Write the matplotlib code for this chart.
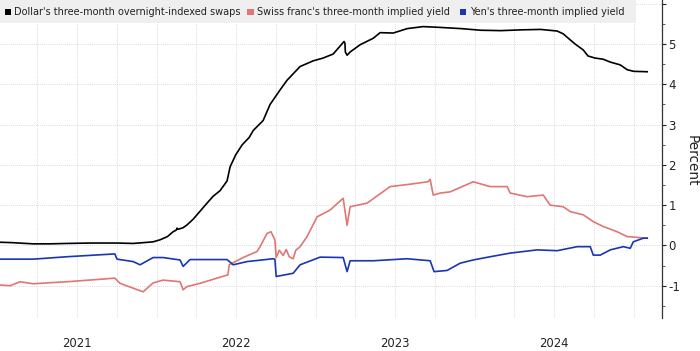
import matplotlib
matplotlib.use("Agg")
import matplotlib.pyplot as plt
import matplotlib.dates as mdates
from matplotlib.patches import Rectangle
from matplotlib.ticker import FixedLocator, FixedFormatter, MultipleLocator
import pandas as pd

plt.rcParams['font.family'] = ['DejaVu Sans']
plt.rcParams['axes.unicode_minus'] = False

# ---------------- data ----------------
series_names = ["Dollar's three-month overnight-indexed swaps",
                "Swiss franc's three-month implied yield",
                "Yen's three-month implied yield"]
series_colors = ["#000000", "#e07676", "#1a35b5"]

usd_dates = ["2021-01-04", "2021-02-01", "2021-03-22", "2021-05-01", "2021-06-08", "2021-08-01",
             "2021-10-01", "2021-11-07", "2021-12-01", "2021-12-23", "2022-01-08", "2022-01-25",
             "2022-02-07", "2022-02-14", "2022-02-16", "2022-02-18", "2022-03-02", "2022-03-11",
             "2022-03-25", "2022-04-10", "2022-04-26", "2022-05-10", "2022-05-26", "2022-06-11",
             "2022-06-18", "2022-07-01", "2022-07-16", "2022-08-01", "2022-08-10", "2022-09-02",
             "2022-09-18", "2022-10-11", "2022-10-27", "2022-11-26", "2022-12-26", "2023-01-18",
             "2023-02-10", "2023-03-07", "2023-03-09", "2023-03-10", "2023-03-14", "2023-03-21",
             "2023-04-13", "2023-05-13", "2023-05-29", "2023-06-28", "2023-07-30", "2023-09-05",
             "2023-10-14", "2023-12-01", "2024-01-15", "2024-03-01", "2024-04-20", "2024-06-01",
             "2024-07-09", "2024-07-23", "2024-08-08", "2024-08-19", "2024-09-07", "2024-09-18",
             "2024-10-04", "2024-10-23", "2024-11-08", "2024-12-01", "2024-12-17", "2025-01-01",
             "2025-02-01"]
usd_vals = [0.08, 0.07, 0.04, 0.04, 0.05, 0.06,
            0.06, 0.05, 0.07, 0.09, 0.14, 0.22,
            0.34, 0.38, 0.43, 0.40, 0.44, 0.51,
            0.65, 0.85, 1.05, 1.22, 1.36, 1.60,
            1.95, 2.25, 2.50, 2.68, 2.85, 3.10,
            3.50, 3.86, 4.10, 4.44, 4.58, 4.65,
            4.75, 5.06, 5.02, 4.80, 4.72, 4.80,
            4.98, 5.14, 5.28, 5.27, 5.38, 5.43,
            5.41, 5.38, 5.34, 5.33, 5.35, 5.36,
            5.32, 5.25, 5.10, 5.00, 4.85, 4.70,
            4.65, 4.62, 4.55, 4.48, 4.36, 4.32,
            4.31]

chf_dates = ["2021-01-04", "2021-01-28", "2021-02-20", "2021-03-22", "2021-06-08", "2021-08-23",
             "2021-09-26", "2021-10-08", "2021-11-07", "2021-11-30", "2021-12-23", "2022-01-15",
             "2022-02-23", "2022-03-02", "2022-03-11", "2022-04-10", "2022-05-19", "2022-06-13",
             "2022-06-16", "2022-07-18", "2022-08-19", "2022-08-26", "2022-09-11", "2022-09-20",
             "2022-09-29", "2022-10-02", "2022-10-09", "2022-10-18", "2022-10-25", "2022-11-01",
             "2022-11-10", "2022-11-16", "2022-11-26", "2022-12-12",
             "2023-01-04", "2023-02-03", "2023-03-05", "2023-03-14", "2023-03-21", "2023-04-29",
             "2023-06-21", "2023-08-06", "2023-09-16", "2023-09-21", "2023-09-28", "2023-10-14",
             "2023-11-06", "2023-12-29", "2024-02-06", "2024-03-16", "2024-03-23", "2024-05-01",
             "2024-06-07", "2024-06-23", "2024-07-23", "2024-08-08", "2024-09-07", "2024-09-30",
             "2024-10-23", "2024-11-24", "2024-12-17", "2025-01-09", "2025-02-01"]
chf_vals = [-0.98, -1.00, -0.90, -0.95, -0.90, -0.84,
            -0.81, -0.94, -1.06, -1.15, -0.93, -0.86,
            -0.90, -1.10, -1.02, -0.94, -0.81, -0.73,
            -0.48, -0.30, -0.15, -0.03, 0.30, 0.34,
            0.14, -0.30, -0.12, -0.25, -0.10, -0.28,
            -0.33, -0.12, -0.03, 0.22,
            0.71, 0.88, 1.17, 0.50, 0.96, 1.05,
            1.46, 1.52, 1.58, 1.64, 1.25, 1.30,
            1.33, 1.58, 1.46, 1.46, 1.30, 1.21,
            1.25, 1.00, 0.96, 0.84, 0.76, 0.59,
            0.47, 0.34, 0.22, 0.20, 0.18]

jpy_dates = ["2021-01-04", "2021-03-22", "2021-06-08", "2021-09-26", "2021-10-01", "2021-11-07",
             "2021-11-23", "2021-12-23", "2022-01-15", "2022-02-23", "2022-03-02", "2022-03-18",
             "2022-06-11", "2022-06-25", "2022-07-27", "2022-09-25", "2022-09-29", "2022-10-02",
             "2022-11-10", "2022-11-26", "2023-01-11", "2023-03-05", "2023-03-14", "2023-03-21",
             "2023-05-13", "2023-07-30", "2023-09-21", "2023-09-30", "2023-10-30", "2023-11-29",
             "2023-12-29", "2024-02-06", "2024-03-23", "2024-05-24", "2024-07-09", "2024-08-24",
             "2024-09-23", "2024-09-30", "2024-10-16", "2024-11-08", "2024-12-08", "2024-12-24",
             "2024-12-31", "2025-01-23", "2025-02-01"]
jpy_vals = [-0.34, -0.34, -0.28, -0.21, -0.34, -0.40,
            -0.48, -0.30, -0.30, -0.36, -0.52, -0.35,
            -0.35, -0.48, -0.40, -0.33, -0.34, -0.77,
            -0.69, -0.48, -0.29, -0.30, -0.65, -0.38,
            -0.38, -0.33, -0.38, -0.65, -0.62, -0.44,
            -0.36, -0.28, -0.19, -0.11, -0.13, -0.03,
            -0.03, -0.24, -0.24, -0.11, -0.03, -0.07,
            0.09, 0.18, 0.18]

year_labels = ["2021", "2022", "2023", "2024"]
y_ticks = [-1, 0, 1, 2, 3, 4, 5, 6]
y_tick_labels = ["-1", "0", "1", "2", "3", "4", "5", ""]
y_label = "Percent"

# ---------------- figure ----------------
W, H = 700, 351
fig = plt.figure(figsize=(W / 100, H / 100), dpi=100)
ax = fig.add_axes([0, 33 / H, 662 / W, 318 / H])

for dates, vals, col in zip([usd_dates, chf_dates, jpy_dates],
                            [usd_vals, chf_vals, jpy_vals], series_colors):
    ax.plot(pd.to_datetime(dates), vals, color=col, lw=1.2, zorder=3,
            solid_joinstyle="round")

ax.set_xlim(pd.Timestamp("2021-01-05"), pd.Timestamp("2025-03-07"))
ax.set_ylim(-1.8, 6.09)

# x: quarterly gridlines, year labels at mid-year
quarters = pd.date_range("2021-04-01", "2025-01-01", freq="QS")
qnums = mdates.date2num(quarters)
qlabels = []
for q in quarters:
    lab = str(q.year) if (q.month == 7 and str(q.year) in year_labels) else ""
    qlabels.append(lab)
ax.xaxis.set_major_locator(FixedLocator(qnums))
ax.xaxis.set_major_formatter(FixedFormatter(qlabels))
ax.tick_params(axis="x", length=0, pad=13.5, labelsize=8.4, colors="#222222")

# y on the right
ax.yaxis.tick_right()
ax.yaxis.set_label_position("right")
ax.yaxis.set_major_locator(FixedLocator(y_ticks))
ax.yaxis.set_major_formatter(FixedFormatter(y_tick_labels))
ax.yaxis.set_minor_locator(MultipleLocator(0.5))
ax.tick_params(axis="y", which="major", length=3, width=0.8, pad=1.5, labelsize=8.5,
               colors="#222222", direction="out")
ax.tick_params(axis="y", which="minor", length=1.8, width=0.6, color="#444444")

ax.grid(True, which="major", axis="both", linestyle=(0, (1, 1.5)), color="#cfcfcf", lw=0.6)
ax.set_axisbelow(True)

for s in ["left", "top", "bottom"]:
    ax.spines[s].set_visible(False)
ax.spines["right"].set_color("#333333")
ax.spines["right"].set_linewidth(0.9)

fig.text(692 / W, 1 - 161 / H, y_label, rotation=270, ha="center", va="center",
         fontsize=9.8, color="#222222")

# legend band
fig.patches.append(Rectangle((0, 1 - 23 / H), 636 / W, 23 / H, transform=fig.transFigure,
                             facecolor="#efefef", edgecolor="none", zorder=5))
sq_x = [4.5, 247, 460]
tx_x = [14, 257, 470]
yc = 1 - 12 / H
for name, col, sx, tx in zip(series_names, series_colors, sq_x, tx_x):
    fig.patches.append(Rectangle((sx / W, yc - 3.3 / H), 6.5 / W, 6.5 / H,
                                 transform=fig.transFigure, facecolor=col,
                                 edgecolor="none", zorder=6))
    fig.text(tx / W, yc, name, ha="left", va="center", fontsize=7.05, color="#222222",
             zorder=7)

fig.savefig("out.png", dpi=100)
